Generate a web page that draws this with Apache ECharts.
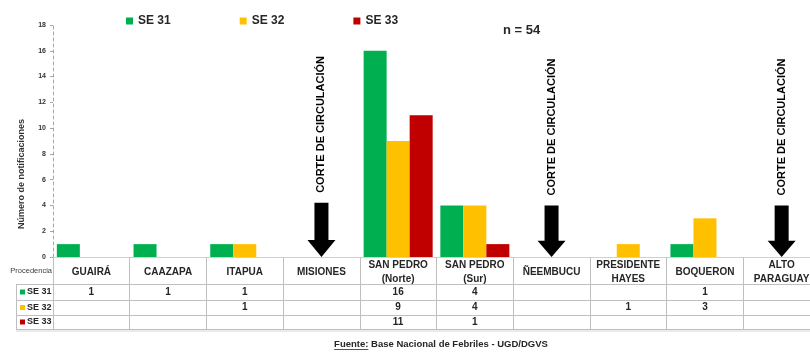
<!DOCTYPE html>
<html>
<head>
<meta charset="utf-8">
<script src="https://cdn.jsdelivr.net/npm/echarts@6/dist/echarts.min.js"></script>
<style>
  html, body { margin: 0; padding: 0; background: #ffffff; overflow: hidden; }
  #chart { width: 810px; height: 354px; }
</style>
</head>
<body>
<div id="chart"></div>
<script>
// Notificaciones por procedencia, semanas epidemiológicas 31 a 33
const categories = ['GUAIRÁ', 'CAAZAPA', 'ITAPUA', 'MISIONES', 'SAN PEDRO\n(Norte)', 'SAN PEDRO\n(Sur)', 'ÑEEMBUCU', 'PRESIDENTE\nHAYES', 'BOQUERON', 'ALTO\nPARAGUAY'];
const seriesNames = ['SE 31', 'SE 32', 'SE 33'];
const se31 = [1, 1, 1, null, 16, 4, null, null, 1, null];
const se32 = [null, null, 1, null, 9, 4, null, 1, 3, null];
const se33 = [null, null, null, null, 11, 1, null, null, null, null];
// departments with circulation cut-off, arrow heights in axis units
const cutArrows = [null, null, null, 4.2, null, null, 4, null, null, 4];
const cutLabel = 'CORTE DE CIRCULACIÓN';
const yMin = 0, yMax = 18, yStep = 2;
const totalLabel = 'n = 54';
const yTitle = 'Número de notificaciones';
const rowHeader = 'Procedencia';
const sourceLead = 'Fuente:';
const sourceText = ' Base Nacional de Febriles - UGD/DGVS';

const colors = ['#00B050', '#FFC000', '#C00000'];
const seriesData = [se31, se32, se33];
const FONT = '"Liberation Sans", Arial, sans-serif';
const ink = '#262626';
const gridCol = '#bfbfbf';

const chart = echarts.init(document.getElementById('chart'), null, { renderer: 'canvas' });

// one hidden-line x axis per table row, so the row values follow the category scale
function rowAxis(values, offset) {
  return {
    type: 'category', data: categories, position: 'bottom', offset: offset,
    axisLine: { show: false }, axisTick: { show: false }, splitLine: { show: false },
    axisLabel: {
      interval: 0, margin: 0, verticalAlign: 'middle',
      fontFamily: FONT, fontWeight: 'bold', fontSize: 10, color: ink,
      formatter: (v, i) => values[i] == null ? '' : String(values[i])
    }
  };
}

const barSeries = seriesNames.map((name, k) => ({
  name: name, type: 'bar', xAxisIndex: 0, yAxisIndex: 0,
  data: seriesData[k], barGap: '0%', barCategoryGap: '10%',
  itemStyle: { color: colors[k] }
}));

const arrowPath = 'path://M7,0 L21,0 L21,37 L28,37 L14,54 L0,37 L7,37 Z';

const option = {
  animation: false,
  backgroundColor: '#ffffff',
  color: colors,
  // the last table column runs past the right edge of the page
  grid: { left: 53, width: 767, top: 25, bottom: 97, outerBoundsMode: 'none' },
  legend: {
    data: seriesNames, left: 121, top: 10, icon: 'rect',
    itemWidth: 7, itemHeight: 7, itemGap: 69,
    textStyle: { fontFamily: FONT, fontWeight: 'bold', fontSize: 12, color: ink }
  },
  xAxis: [
    {
      type: 'category', data: categories, position: 'bottom',
      axisLine: { show: true, lineStyle: { color: '#d0d0d0', width: 1 } },
      axisTick: { show: true, length: 72, lineStyle: { color: gridCol } },
      axisLabel: {
        interval: 0, margin: 15, verticalAlign: 'middle', lineHeight: 14,
        fontFamily: FONT, fontWeight: 'bold', fontSize: 10, color: ink
      },
      splitLine: { show: false }
    },
    rowAxis(se31, 35),
    rowAxis(se32, 50.5),
    rowAxis(se33, 65)
  ],
  yAxis: {
    type: 'value', min: yMin, max: yMax, interval: yStep,
    axisLine: { show: true, lineStyle: { color: '#a6a6a6', type: [3, 3] } },
    axisTick: { show: true, length: 3, lineStyle: { color: '#a6a6a6' } },
    axisLabel: { margin: 7, fontFamily: FONT, fontWeight: 'bold', fontSize: 7, color: '#333333' },
    splitLine: { show: false }
  },
  series: barSeries.concat([{
    type: 'pictorialBar', name: 'corte', xAxisIndex: 0, yAxisIndex: 0,
    data: cutArrows, symbol: arrowPath, symbolSize: [28, '100%'],
    symbolPosition: 'start', itemStyle: { color: '#000000' },
    label: {
      show: true, position: 'top', distance: 10, rotate: 90,
      align: 'left', verticalAlign: 'middle',
      formatter: () => cutLabel,
      fontFamily: FONT, fontWeight: 'bold', fontSize: 11, color: '#000000'
    }
  }])
};

chart.setOption(option);

// table frame, row keys, titles and source note
const measure = document.createElement('canvas').getContext('2d');
measure.font = 'bold 9.5px ' + FONT;
const leadW = measure.measureText(sourceLead).width;
const fullW = measure.measureText(sourceLead + sourceText).width;
const srcX = 441 - fullW / 2;

const rowLines = [284, 300, 315, 329];
const rowCenters = [292, 307.5, 322];
const graphic = [];
rowLines.forEach(y => graphic.push({
  type: 'line', shape: { x1: 16, y1: y + 0.5, x2: 810, y2: y + 0.5 },
  style: { stroke: gridCol, lineWidth: 1 }, silent: true
}));
graphic.push({
  type: 'line', shape: { x1: 16.5, y1: 284, x2: 16.5, y2: 330 },
  style: { stroke: gridCol, lineWidth: 1 }, silent: true
});
graphic.push({
  type: 'line', shape: { x1: 16, y1: 331, x2: 810, y2: 331 },
  style: { stroke: '#e4e4e4', lineWidth: 1.5 }, silent: true
});
seriesNames.forEach((name, k) => {
  graphic.push({
    type: 'rect', shape: { x: 20, y: rowCenters[k] - 2.5, width: 5, height: 5 },
    style: { fill: colors[k] }, silent: true
  });
  graphic.push({
    type: 'text', x: 27, y: rowCenters[k],
    style: { text: name, fontFamily: FONT, fontWeight: 'bold', fontSize: 9, fill: ink, align: 'left', verticalAlign: 'middle' },
    silent: true
  });
});
graphic.push({
  type: 'text', x: 52, y: 271,
  style: { text: rowHeader, fontFamily: FONT, fontSize: 7.5, fill: '#404040', align: 'right', verticalAlign: 'middle' },
  silent: true
});
graphic.push({
  type: 'text', x: 22, y: 174, rotation: Math.PI / 2,
  style: { text: yTitle, fontFamily: FONT, fontWeight: 'bold', fontSize: 9, fill: '#333333', align: 'center', verticalAlign: 'middle' },
  silent: true
});
graphic.push({
  type: 'text', x: 503, y: 30,
  style: { text: totalLabel, fontFamily: FONT, fontWeight: 'bold', fontSize: 13, fill: ink, align: 'left', verticalAlign: 'middle' },
  silent: true
});
graphic.push({
  type: 'text', x: srcX, y: 344,
  style: { text: sourceLead + sourceText, fontFamily: FONT, fontWeight: 'bold', fontSize: 9.5, fill: ink, align: 'left', verticalAlign: 'middle' },
  silent: true
});
graphic.push({
  type: 'line', shape: { x1: srcX, y1: 349.5, x2: srcX + leadW, y2: 349.5 },
  style: { stroke: ink, lineWidth: 0.8 }, silent: true
});

chart.setOption({ graphic: graphic });
</script>
</body>
</html>
